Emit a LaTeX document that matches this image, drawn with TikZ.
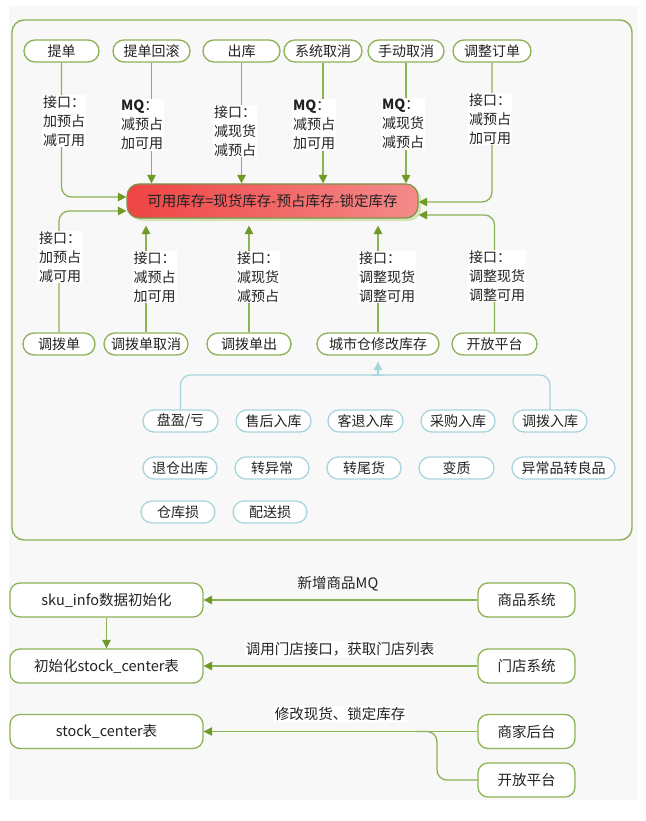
\documentclass[tikz,border=0pt]{standalone}
\usepackage{fontspec}
\setmainfont{Noto Sans CJK SC}
\usetikzlibrary{arrows.meta,shadows,calc}
\definecolor{gline}{HTML}{8DB255}
\definecolor{garrow}{HTML}{6F9A25}
\definecolor{bline}{HTML}{A8D5DD}
\definecolor{bgray}{HTML}{F8F8F8}
\definecolor{txt}{HTML}{222222}
\definecolor{redL}{HTML}{EF4444}
\definecolor{redR}{HTML}{F58A8A}
\definecolor{shgreen}{HTML}{D5E4B8}
\tikzset{
  pill/.style={draw=gline, line width=1.3pt, fill=white, rounded corners=11pt, minimum height=22pt, inner sep=0pt},
  bpill/.style={pill, draw=bline},
  lab/.style={fill=white, align=left, inner sep=1pt},
  conn/.style={gline, line width=1.3pt, rounded corners=10pt},
  arr/.style={conn, -{Triangle[length=8.5pt,width=8.5pt,color=garrow]}},
  bconn/.style={bline, line width=1.3pt, rounded corners=10pt},
  central/.style={draw=gline!85!black, line width=1.2pt, rounded corners=12pt, left color=redL, right color=redR,
    minimum width=291pt, minimum height=34pt, inner sep=0pt, font=\fontsize{14.5}{17}\selectfont,
    drop shadow={shadow xshift=3pt, shadow yshift=-3pt, fill=shgreen, opacity=1}},
  box/.style={draw=gline, line width=1.3pt, rounded corners=10pt, fill=white, minimum height=34pt, inner sep=0pt, font=\fontsize{14.5}{17}\selectfont},
}
\begin{document}
\begin{tikzpicture}[x=1pt,y=-1pt, font=\fontsize{14}{19}\selectfont, text=txt]
\useasboundingbox (0,0) rectangle (645,821);
\fill[bgray] (9,6) rectangle (638,800);
\draw[gline, line width=1.4pt, rounded corners=12pt] (12,20) rectangle (632,540);

% top pills
\node[pill, minimum width=75pt] (t1) at (61.5,51) {提单};
\node[pill, minimum width=77pt] (t2) at (151.5,51) {提单回滚};
\node[pill, minimum width=77pt] (t3) at (241.5,51) {出库};
\node[pill, minimum width=78pt] (t4) at (323,51) {系统取消};
\node[pill, minimum width=76pt] (t5) at (406,51) {手动取消};
\node[pill, minimum width=78pt] (t6) at (492,51) {调整订单};

% central
\node[central] (c) at (272.5,201) {可用库存=现货库存-预占库存-锁定库存};

% bottom pills
\node[pill, minimum width=72pt] (b1) at (59,344) {调拨单};
\node[pill, minimum width=84pt] (b2) at (146,344) {调拨单取消};
\node[pill, minimum width=84pt] (b3) at (249,344) {调拨单出};
\node[pill, minimum width=122pt] (b4) at (378,344) {城市仓修改库存};
\node[pill, minimum width=85pt] (b5) at (494.5,344) {开放平台};

% connectors top
\draw[arr] (t1.south) |- ([yshift=4pt]c.west);
\draw[arr] (t2.south) -- (t2.south |- c.north);
\draw[arr] (t3.south) -- (t3.south |- c.north);
\draw[arr] (t4.south) -- (t4.south |- c.north);
\draw[arr] (t5.south) -- (t5.south |- c.north);
\draw[arr] (t6.south) |- ([yshift=-1pt]c.east);
% connectors bottom
\draw[arr] (b1.north) |- ([yshift=-10pt]c.west);
\draw[arr, shorten >=7pt] (b2.north) -- (b2.north |- c.south);
\draw[arr, shorten >=7pt] (b3.north) -- (b3.north |- c.south);
\draw[arr, shorten >=7pt] (b4.north) -- (b4.north |- c.south);
\draw[arr] (b5.north) |- ([yshift=-14pt]c.east);

% labels
\node[lab] (l1) at (64,121) {接口：\\加预占\\减可用};
\node[lab] (l2) at (142,125) {\textbf{MQ}：\\减预占\\加可用};
\node[lab] (l3) at (235,131) {接口：\\减现货\\减预占};
\node[lab] (l4) at (314,125) {\textbf{MQ}：\\减预占\\加可用};
\node[lab] (l5) at (403,124) {\textbf{MQ}：\\减现货\\减预占};
\node[lab] (l6) at (490,119) {接口：\\减预占\\加可用};
\node[lab] (m1) at (60,257) {接口：\\加预占\\减可用};
\node[lab] (m2) at (154.5,277) {接口：\\减预占\\加可用};
\node[lab] (m3) at (258,277) {接口：\\减现货\\减预占};
\node[lab] (m4) at (387,277) {接口：\\调整现货\\调整可用};
\node[lab] (m5) at (497,276) {接口：\\调整现货\\调整可用};

% blue pills
\node[bpill, minimum width=75pt] (p1) at (180.5,421) {盘盈/亏};
\node[bpill, minimum width=75pt] (p2) at (273.5,421) {售后入库};
\node[bpill, minimum width=75pt] (p3) at (365.5,421) {客退入库};
\node[bpill, minimum width=74pt] (p4) at (458,421) {采购入库};
\node[bpill, minimum width=74pt] (p5) at (550,421) {调拨入库};
\node[bpill, minimum width=74pt] (q1) at (180,468) {退仓出库};
\node[bpill, minimum width=74pt] (q2) at (272,468) {转异常};
\node[bpill, minimum width=74pt] (q3) at (364,468) {转尾货};
\node[bpill, minimum width=75pt] (q4) at (456.5,468) {变质};
\node[bpill, minimum width=103pt] (q5) at (563.5,468) {异常品转良品};
\node[bpill, minimum width=74pt] (r1) at (178,512) {仓库损};
\node[bpill, minimum width=74pt] (r2) at (270,512) {配送损};

% blue connectors
\coordinate (bpeak) at (378,366);
\draw[bconn] (p1.north) |- (371,375) to[out=0,in=-90] (bpeak);
\draw[bconn] (p5.north) |- (385,375) to[out=180,in=-90] (bpeak);
\draw[bline, line width=1.3pt, -{Triangle[length=8.5pt,width=8.5pt]}, shorten >=6pt] (bpeak) -- (b4.south);

% lower section
\node[box, minimum width=193pt] (s1) at (106.5,600) {sku\_info数据初始化};
\node[box, minimum width=97pt] (s2) at (526.5,600) {商品系统};
\node[box, minimum width=193pt] (s3) at (106.5,666) {初始化stock\_center表};
\node[box, minimum width=97pt] (s4) at (526.5,666) {门店系统};
\node[box, minimum width=193pt] (s5) at (106.5,731.5) {stock\_center表};
\node[box, minimum width=97pt] (s6) at (526.5,731.5) {商家后台};
\node[box, minimum width=97pt] (s7) at (526.5,780) {开放平台};

\draw[arr] (s2.west) -- (s1.east);
\draw[arr] (s1.south) -- (s3.north);
\draw[arr] (s4.west) -- (s3.east);
\draw[arr] (s6.west) -- (s5.east);
\coordinate (j) at (437,731.5);
\coordinate (j2) at (415,731.5);
\draw[conn] (s7.west) -| (j) -- (j2);

\node[font=\fontsize{14.5}{17}\selectfont] (la1) at (338,584) {新增商品MQ};
\node[fill=white, inner sep=1pt, font=\fontsize{14.5}{17}\selectfont] (la2) at (340,649) {调用门店接口，获取门店列表};
\node[fill=white, inner sep=1pt, font=\fontsize{14.5}{17}\selectfont] (la3) at (340,714) {修改现货、锁定库存};
\end{tikzpicture}
\end{document}
